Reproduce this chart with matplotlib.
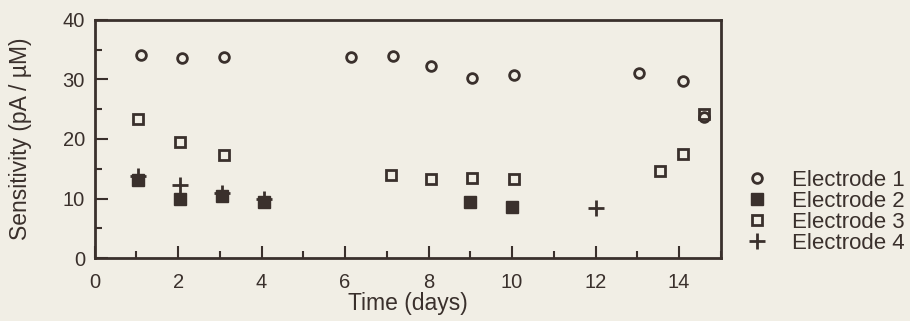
import matplotlib
matplotlib.use("Agg")
import matplotlib.pyplot as plt
from matplotlib.ticker import MultipleLocator

plt.rcParams['font.family'] = ['Liberation Sans', 'DejaVu Sans']

# Data
e1_days = [1.1, 2.1, 3.1, 6.15, 7.15, 8.05, 9.05, 10.05, 13.05, 14.1, 14.6]
e1_sens = [34.1, 33.6, 33.8, 33.7, 33.9, 32.2, 30.2, 30.8, 31.0, 29.7, 23.7]

e2_days = [1.05, 2.05, 3.05, 4.05, 9.0, 10.0]
e2_sens = [13.1, 10.0, 10.4, 9.5, 9.4, 8.6]

e3_days = [1.05, 2.05, 3.1, 7.1, 8.05, 9.05, 10.05, 13.55, 14.1, 14.6]
e3_sens = [23.3, 19.5, 17.3, 13.9, 13.2, 13.4, 13.2, 14.6, 17.4, 24.2]

e4_days = [1.05, 2.05, 3.05, 4.05, 12.0]
e4_sens = [13.8, 12.3, 10.9, 9.9, 8.4]

ink = '#3a302c'
paper = '#f1eee5'

fig = plt.figure(figsize=(9.1, 3.21), dpi=100, facecolor=paper)
ax = fig.add_axes([0.104, 0.196, 0.688, 0.742], facecolor=paper)

ax.plot(e1_days, e1_sens, linestyle='none', marker='o', markersize=7,
        markerfacecolor='none', markeredgecolor=ink, markeredgewidth=2, label='Electrode 1')
ax.plot(e2_days, e2_sens, linestyle='none', marker='s', markersize=8,
        markerfacecolor=ink, markeredgecolor=ink, markeredgewidth=1, label='Electrode 2')
ax.plot(e3_days, e3_sens, linestyle='none', marker='s', markersize=7.5,
        markerfacecolor='none', markeredgecolor=ink, markeredgewidth=2, label='Electrode 3')
ax.plot(e4_days, e4_sens, linestyle='none', marker='+', markersize=11,
        markeredgecolor=ink, markeredgewidth=2, label='Electrode 4')

ax.set_xlim(0, 15)
ax.set_ylim(0, 40)
ax.xaxis.set_major_locator(MultipleLocator(2))
ax.xaxis.set_minor_locator(MultipleLocator(1))
ax.yaxis.set_major_locator(MultipleLocator(10))
ax.yaxis.set_minor_locator(MultipleLocator(5))
ax.tick_params(which='both', direction='in', top=False, right=False, colors=ink,
               width=1.5, labelsize=14.5, labelcolor=ink)
ax.tick_params(which='major', length=9)
ax.tick_params(which='minor', length=5)
ax.tick_params(axis='x', pad=11)
ax.tick_params(axis='y', pad=7)
for s in ax.spines.values():
    s.set_color(ink)
    s.set_linewidth(2)

ax.set_xlabel('Time (days)', fontsize=16.5, color=ink, labelpad=0)
ax.set_ylabel('Sensitivity (pA / µM)', fontsize=16.5, color=ink, labelpad=22)

leg = ax.legend(loc='center left', bbox_to_anchor=(1.04, 0.193), frameon=False,
                fontsize=16, handletextpad=1.1, labelspacing=0.0,
                handlelength=1.0, borderaxespad=0, borderpad=0)
for t in leg.get_texts():
    t.set_color(ink)

fig.savefig('out.png', dpi=100, facecolor=paper)
